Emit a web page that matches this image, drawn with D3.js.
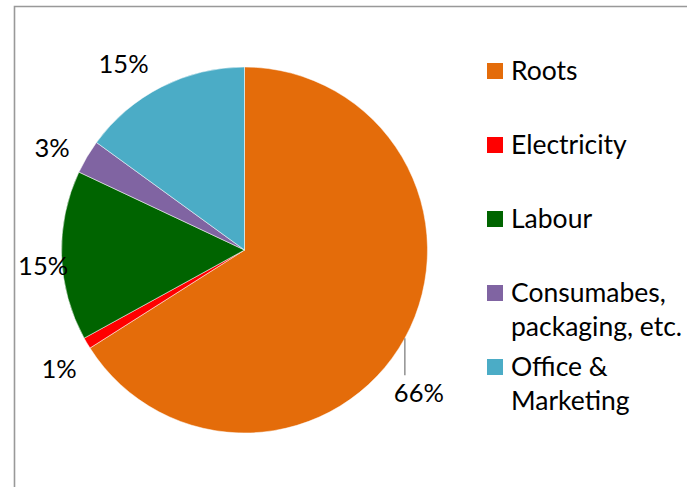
<!DOCTYPE html>
<html>
<head>
<meta charset="utf-8">
<script src="https://cdn.jsdelivr.net/npm/d3@7"></script>
<style>
  html, body { margin: 0; padding: 0; background: #fff; }
  svg { display: block; }
  text { font-family: Lato, "Open Sans", sans-serif; fill: #000; }
</style>
</head>
<body>
<svg id="chart" width="687" height="487"></svg>
<script>
// Cost breakdown, percent of total
const categories = ["Roots", "Electricity", "Labour", "Consumabes, packaging, etc.", "Office & Marketing"];
const values = [66, 1, 15, 3, 15];
const colors = ["#E46C0A", "#FF0000", "#006400", "#8064A2", "#4BACC6"];
// Legend entries as they wrap onto lines
const legendLines = [["Roots"], ["Electricity"], ["Labour"], ["Consumabes,", "packaging, etc."], ["Office &", "Marketing"]];

const W = 687, H = 487;
const svg = d3.select("#chart");

// Frame of the chart area (top and left edges visible)
svg.append("path")
  .attr("d", `M14.5,${H} V6.5 H${W}`)
  .attr("fill", "none")
  .attr("stroke", "#999")
  .attr("stroke-width", 1.6);

const cx = 244.5, cy = 250, R = 183;
const g = svg.append("g").attr("transform", `translate(${cx},${cy})`);

const pie = d3.pie().sort(null).value(d => d.v).startAngle(0).endAngle(2 * Math.PI);
const data = categories.map((c, i) => ({ c, v: values[i], col: colors[i] }));
const arcs = pie(data);
const arc = d3.arc().innerRadius(0).outerRadius(R);

g.selectAll("path.slice")
  .data(arcs)
  .join("path")
  .attr("class", "slice")
  .attr("d", arc)
  .attr("fill", d => d.data.col)
  .attr("stroke", "#fff")
  .attr("stroke-width", 0.5);

const fmt = d => d3.format(".0f")(d) + "%";
const polar = (a, r) => [r * Math.sin(a), -r * Math.cos(a)];
const deg = Math.PI / 180;
const labelSize = 25.5;

// Outside labels: angle nudge (degrees) and radius from the centre
const labelPlace = {
  "Electricity": [-2, 220],
  "Labour": [-2.6, 202],
  "Consumabes, packaging, etc.": [-2.6, 218],
  "Office & Marketing": [-6, 222]
};

arcs.forEach(d => {
  const mid = (d.startAngle + d.endAngle) / 2;
  if (d.data.c === "Roots") {
    // leader line dropping from the rim, label beneath it
    const [x0, y0] = polar(mid, R);
    g.append("line")
      .attr("x1", x0).attr("y1", y0)
      .attr("x2", x0).attr("y2", y0 + 37)
      .attr("stroke", "#7f7f7f").attr("stroke-width", 1.3);
    g.append("text")
      .attr("x", x0 + 14).attr("y", y0 + 64)
      .attr("text-anchor", "middle")
      .attr("font-size", labelSize)
      .text(fmt(d.data.v));
  } else {
    const [da, r] = labelPlace[d.data.c];
    const [x, y] = polar(mid + da * deg, r);
    g.append("text")
      .attr("x", x).attr("y", y + 9)
      .attr("text-anchor", "middle")
      .attr("font-size", labelSize)
      .text(fmt(d.data.v));
  }
});

// Legend
const leg = svg.append("g").attr("transform", "translate(487,63)");
const item = leg.selectAll("g")
  .data(data)
  .join("g")
  .attr("transform", (d, i) => `translate(0,${i * 74})`);
item.append("rect")
  .attr("width", 16).attr("height", 16)
  .attr("fill", d => d.col);
item.each(function(d, i) {
  const t = d3.select(this).append("text")
    .attr("x", 24).attr("y", 17)
    .attr("font-size", 26.5);
  legendLines[i].forEach((ln, j) => {
    t.append("tspan").attr("x", 24).attr("dy", j === 0 ? 0 : 34).text(ln);
  });
});
</script>
</body>
</html>
